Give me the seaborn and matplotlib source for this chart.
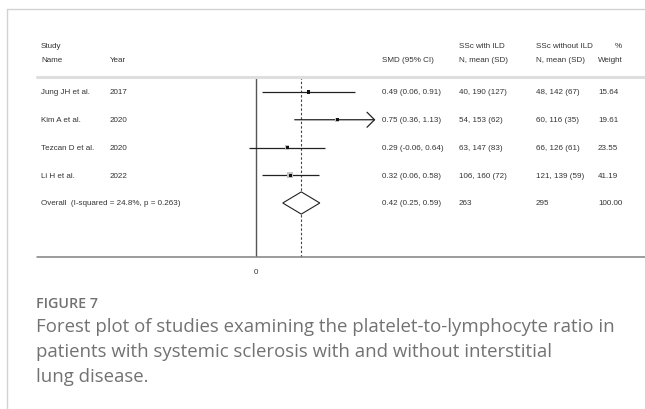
import numpy as np
import pandas as pd
import seaborn as sns
import matplotlib
matplotlib.use("Agg")
import matplotlib.pyplot as plt
from matplotlib.transforms import blended_transform_factory
from matplotlib.patches import Polygon
from matplotlib.lines import Line2D

# ---- study data -------------------------------------------------------------
studies = ["Jung JH et al.", "Kim A et al.", "Tezcan D et al.", "Li H et al."]
years = ["2017", "2020", "2020", "2022"]
smd = [0.49, 0.75, 0.29, 0.32]
ci_low = [0.06, 0.36, -0.06, 0.06]
ci_high = [0.91, 1.13, 0.64, 0.58]
ild_n = [40, 54, 63, 106]
ild_mean = [190, 153, 147, 160]
ild_sd = [127, 62, 83, 72]
noild_n = [48, 60, 66, 121]
noild_mean = [142, 116, 126, 139]
noild_sd = [67, 35, 61, 59]
weights = [15.64, 19.61, 23.55, 41.19]

overall_smd = 0.42
overall_low = 0.25
overall_high = 0.59
i_squared = 24.8
p_heterogeneity = 0.263
overall_weight = 100.00

# ---- figure geometry (pixels) ------------------------------------------------
W, H = 645, 410
DPI = 100
sns.set_theme(style="white")
plt.rcParams["font.family"] = ["Liberation Sans", "DejaVu Sans"]

fig = plt.figure(figsize=(W / DPI, H / DPI), dpi=DPI)


def fx(px):
    return px / W


def fy(py):
    return 1 - py / H


# forest panel: x in SMD units, y in row index
SEP_Y, BOTTOM_Y = 78, 258
AX_L, AX_R = 240, 380
ROW0, ROW_STEP = 93, 27.75
ZERO_PX, PX_PER_UNIT = 255.5, 109
x_max_shown = 1.1

ax = fig.add_axes([fx(AX_L), fy(BOTTOM_Y), (AX_R - AX_L) / W, (BOTTOM_Y - SEP_Y) / H])
ax.set_xlim((AX_L - ZERO_PX) / PX_PER_UNIT, (AX_R - ZERO_PX) / PX_PER_UNIT)
ax.set_ylim((BOTTOM_Y - ROW0) / ROW_STEP, (SEP_Y - ROW0) / ROW_STEP)
ax.patch.set_alpha(0)
for s in ax.spines.values():
    s.set_visible(False)

rows = np.arange(len(studies))
df = pd.DataFrame({"row": rows, "smd": smd, "lo": ci_low, "hi": ci_high, "w": weights})
overall_row = len(studies)

# reference lines
ax.axvline(0, color="#555555", lw=1.0, zorder=1)
ax.axvline(overall_smd, color="#444444", lw=0.8, ls=(0, (2.2, 1.8)), zorder=1)

# confidence intervals (arrow where the interval runs past the shown range)
for r, lo, hi in zip(df["row"], df["lo"], df["hi"]):
    if hi > x_max_shown:
        ax.annotate("", xy=(x_max_shown, r), xytext=(lo, r),
                    arrowprops=dict(arrowstyle="->,head_length=0.45,head_width=0.45",
                                    color="#222222", lw=0.9, shrinkA=0, shrinkB=0),
                    annotation_clip=False, zorder=2)
    else:
        ax.hlines(r, lo, hi, color="#222222", lw=0.9, zorder=2)

# study weight boxes and point estimates
sns.scatterplot(data=df, x="smd", y="row", size="w", sizes=(4, 20), marker="s",
                color="#c4c4c4", edgecolor="none", legend=False, ax=ax, zorder=3)
sns.scatterplot(data=df, x="smd", y="row", marker="s", s=5, color="#111111",
                edgecolor="none", legend=False, ax=ax, zorder=4)
ax.set_xlabel("")
ax.set_ylabel("")
ax.set_yticks([])
ax.set_xticks([0])
ax.set_xticklabels(["0"])
ax.tick_params(axis="x", length=0, pad=8, labelsize=5.8, labelcolor="#333333")

# pooled estimate diamond
half_h = 0.4
diamond = Polygon([(overall_low, overall_row), (overall_smd, overall_row - half_h),
                   (overall_high, overall_row), (overall_smd, overall_row + half_h)],
                  closed=True, facecolor="white", edgecolor="#222222", lw=0.8, zorder=3)
ax.add_patch(diamond)

# ---- table text ---------------------------------------------------------------
tcol = "#333333"
fs = 5.8
COL_NAME, COL_YEAR, COL_SMD, COL_ILD, COL_NOILD, COL_W = 41, 110, 382, 459, 536, 598
tr = blended_transform_factory(fig.transFigure, ax.transData)

HEAD1, HEAD2 = 46, 60
headers = [
    (COL_NAME, "Study", "Name"),
    (COL_YEAR, "", "Year"),
    (COL_SMD, "", "SMD (95% CI)"),
    (COL_ILD, "SSc with ILD", "N, mean (SD)"),
    (COL_NOILD, "SSc without ILD", "N, mean (SD)"),
]
for x, top, bottom in headers:
    if top:
        fig.text(fx(x), fy(HEAD1), top, fontsize=fs, color=tcol, va="center", ha="left")
    fig.text(fx(x), fy(HEAD2), bottom, fontsize=fs, color=tcol, va="center", ha="left")
fig.text(fx(622), fy(HEAD1), "%", fontsize=fs, color=tcol, va="center", ha="right")
fig.text(fx(COL_W), fy(HEAD2), "Weight", fontsize=fs, color=tcol, va="center", ha="left")

for i in rows:
    vals = [
        (COL_NAME, studies[i]),
        (COL_YEAR, years[i]),
        (COL_SMD, f"{smd[i]:.2f} ({ci_low[i]:.2f}, {ci_high[i]:.2f})"),
        (COL_ILD, f"{ild_n[i]}, {ild_mean[i]} ({ild_sd[i]})"),
        (COL_NOILD, f"{noild_n[i]}, {noild_mean[i]} ({noild_sd[i]})"),
        (COL_W, f"{weights[i]:.2f}"),
    ]
    for x, s in vals:
        ax.text(fx(x), i, s, transform=tr, fontsize=fs, color=tcol, va="center", ha="left")

overall_vals = [
    (COL_NAME, f"Overall  (I-squared = {i_squared:.1f}%, p = {p_heterogeneity:.3f})"),
    (COL_SMD, f"{overall_smd:.2f} ({overall_low:.2f}, {overall_high:.2f})"),
    (COL_ILD, f"{sum(ild_n)}"),
    (COL_NOILD, f"{sum(noild_n)}"),
    (COL_W, f"{overall_weight:.2f}"),
]
for x, s in overall_vals:
    ax.text(fx(x), overall_row, s, transform=tr, fontsize=fs, color=tcol, va="center", ha="left")

# ---- rules and card border --------------------------------------------------------
fig.add_artist(Line2D([fx(37), fx(645)], [fy(SEP_Y), fy(SEP_Y)], color="#dedede", lw=2.2))
fig.add_artist(Line2D([fx(37), fx(645)], [fy(BOTTOM_Y), fy(BOTTOM_Y)], color="#808080", lw=1.1))
fig.add_artist(Line2D([fx(6.5), fx(6.5)], [fy(9.5), fy(410)], color="#d2d2d2", lw=1.0))
fig.add_artist(Line2D([fx(6.5), fx(645)], [fy(9.5), fy(9.5)], color="#d2d2d2", lw=1.0))

# ---- caption ----------------------------------------------------------------------
cap_col = "#727272"
fig.text(fx(36), fy(304), "FIGURE 7", fontsize=10.3, color=cap_col, fontweight="semibold",
         family=["Open Sans", "DejaVu Sans"], va="center", ha="left")
caption = [
    "Forest plot of studies examining the platelet-to-lymphocyte ratio in",
    "patients with systemic sclerosis with and without interstitial",
    "lung disease.",
]
for k, line in enumerate(caption):
    fig.text(fx(36), fy(327 + 25 * k), line, fontsize=13.4, color=cap_col,
             family=["Open Sans", "DejaVu Sans"], va="center", ha="left")

fig.savefig("out.png", dpi=DPI)
